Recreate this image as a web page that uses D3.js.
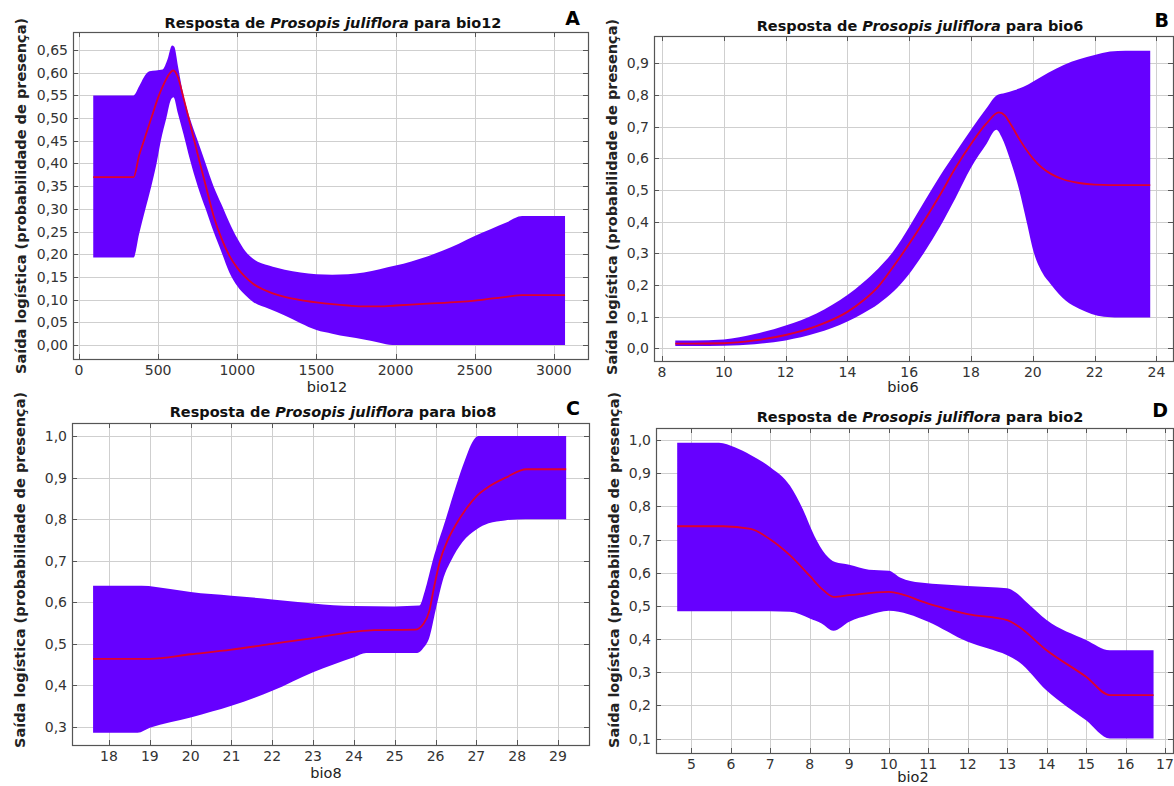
<!DOCTYPE html>
<html><head><meta charset="utf-8">
<script src="https://cdn.jsdelivr.net/npm/d3@7"></script>
<style>
body{margin:0;background:#fff}
svg{display:block}
text{font-family:"DejaVu Sans",sans-serif}
</style></head>
<body><svg id="c" width="1174" height="786"></svg>
<script>
// ---------- DATA ----------
const yLabel = "Saída logística (probabilidade de presença)";
const species = "Prosopis juliflora";

// Panel A: bio12
const xTicksA = [0, 500, 1000, 1500, 2000, 2500, 3000];
const yTicksA = [0, 0.05, 0.10, 0.15, 0.20, 0.25, 0.30, 0.35, 0.40, 0.45, 0.50, 0.55, 0.60, 0.65];
const upperA = [[90,0.55],[200,0.55],[345,0.55],[380,0.57],[410,0.59],[445,0.603],[528,0.607],[560,0.63],[588,0.66],[602,0.657],[625,0.615],[660,0.55],[700,0.50],[750,0.45],[800,0.40],[850,0.35],[900,0.31],[950,0.27],[1000,0.235],[1050,0.207],[1100,0.19],[1200,0.175],[1300,0.166],[1400,0.16],[1500,0.156],[1600,0.155],[1700,0.156],[1800,0.16],[1900,0.167],[2000,0.175],[2100,0.184],[2200,0.195],[2300,0.208],[2400,0.223],[2500,0.24],[2600,0.255],[2700,0.27],[2800,0.284],[3071,0.284]];
const meanA  = [[90,0.37],[200,0.37],[345,0.37],[380,0.418],[410,0.45],[457,0.50],[505,0.55],[540,0.578],[570,0.597],[595,0.605],[625,0.59],[660,0.545],[700,0.49],[750,0.42],[800,0.352],[850,0.285],[900,0.235],[950,0.197],[1000,0.17],[1050,0.15],[1100,0.135],[1200,0.117],[1300,0.106],[1400,0.099],[1500,0.094],[1600,0.09],[1700,0.087],[1800,0.085],[1900,0.085],[2000,0.087],[2200,0.091],[2400,0.095],[2500,0.098],[2600,0.102],[2700,0.106],[2800,0.11],[3071,0.11]];
const lowerA = [[90,0.193],[200,0.193],[345,0.193],[380,0.245],[420,0.30],[457,0.35],[490,0.40],[517,0.45],[552,0.50],[580,0.54],[597,0.546],[625,0.51],[660,0.465],[700,0.41],[750,0.35],[800,0.30],[850,0.25],[900,0.205],[950,0.16],[1000,0.13],[1050,0.11],[1100,0.095],[1200,0.08],[1300,0.065],[1400,0.048],[1500,0.033],[1600,0.025],[1700,0.018],[1800,0.012],[1900,0.005],[1980,0],[2500,0],[3071,0]];

// Panel B: bio6
const xTicksB = [8, 10, 12, 14, 16, 18, 20, 22, 24];
const yTicksB = [0, 0.1, 0.2, 0.3, 0.4, 0.5, 0.6, 0.7, 0.8, 0.9];
const upperB = [[8.43,0.025],[9,0.025],[10,0.028],[11,0.045],[12,0.072],[13,0.11],[14,0.168],[14.5,0.207],[15,0.252],[15.5,0.308],[16,0.383],[16.5,0.465],[17,0.545],[17.5,0.618],[18,0.69],[18.5,0.758],[18.85,0.80],[19.1,0.806],[19.4,0.815],[19.7,0.826],[20,0.842],[20.5,0.87],[21,0.895],[21.5,0.913],[22,0.926],[22.5,0.937],[23,0.94],[23.8,0.94]];
const meanB  = [[8.43,0.015],[9,0.015],[10,0.016],[11,0.025],[12,0.042],[13,0.07],[14,0.115],[14.5,0.15],[15,0.195],[15.5,0.26],[16,0.33],[16.5,0.405],[17,0.485],[17.5,0.57],[18,0.645],[18.5,0.71],[18.9,0.745],[19.1,0.735],[19.3,0.705],[19.6,0.655],[20,0.60],[20.3,0.57],[20.6,0.55],[21,0.533],[21.5,0.522],[22,0.517],[23,0.515],[23.8,0.515]];
const lowerB = [[8.43,0.007],[9,0.007],[10,0.008],[11,0.013],[12,0.025],[13,0.048],[14,0.085],[14.5,0.11],[15,0.14],[15.5,0.18],[16,0.235],[16.5,0.305],[17,0.385],[17.5,0.475],[18,0.57],[18.5,0.645],[18.82,0.69],[19.0,0.665],[19.25,0.60],[19.56,0.50],[19.8,0.40],[20.04,0.30],[20.3,0.24],[20.6,0.20],[21.07,0.15],[21.5,0.125],[22.3,0.10],[23,0.097],[23.8,0.097]];

// Panel C: bio8
const xTicksC = [18, 19, 20, 21, 22, 23, 24, 25, 26, 27, 28, 29];
const yTicksC = [0.3, 0.4, 0.5, 0.6, 0.7, 0.8, 0.9, 1.0];
const upperC = [[17.61,0.64],[18.8,0.64],[19.5,0.632],[20,0.625],[21,0.616],[22,0.607],[23,0.597],[23.5,0.593],[24,0.591],[25,0.59],[25.6,0.592],[25.74,0.628],[25.93,0.70],[26.25,0.80],[26.57,0.90],[26.75,0.95],[26.9,0.985],[27.05,1.0],[29.2,1.0]];
const meanC  = [[17.61,0.464],[19,0.464],[20,0.475],[21,0.486],[22,0.50],[23,0.514],[24,0.529],[24.5,0.533],[25.5,0.534],[25.7,0.548],[25.85,0.58],[25.95,0.63],[26.11,0.70],[26.3,0.75],[26.5,0.787],[26.75,0.825],[27.0,0.855],[27.3,0.878],[27.72,0.90],[28.23,0.92],[29.2,0.92]];
const lowerC = [[17.61,0.286],[18.7,0.286],[19,0.298],[20,0.323],[21,0.351],[22,0.387],[23,0.432],[24,0.468],[24.3,0.478],[25.55,0.478],[25.7,0.49],[25.85,0.516],[26.0,0.58],[26.2,0.66],[26.38,0.70],[26.66,0.745],[27.0,0.775],[27.3,0.79],[27.7,0.797],[28.2,0.80],[29.2,0.80]];

// Panel D: bio2
const xTicksD = [5, 6, 7, 8, 9, 10, 11, 12, 13, 14, 15, 16, 17];
const yTicksD = [0.1, 0.2, 0.3, 0.4, 0.5, 0.6, 0.7, 0.8, 0.9, 1.0];
const upperD = [[4.64,0.992],[5.7,0.992],[6.1,0.978],[6.5,0.955],[7,0.918],[7.5,0.862],[7.83,0.79],[8.12,0.71],[8.4,0.655],[8.64,0.632],[9,0.624],[9.5,0.609],[10,0.606],[10.3,0.585],[10.8,0.57],[12,0.56],[13,0.553],[13.2,0.542],[13.5,0.51],[14,0.457],[15,0.397],[15.6,0.366],[16.71,0.366]];
const meanD  = [[4.64,0.74],[5.8,0.74],[6.5,0.732],[7,0.70],[7.5,0.652],[8,0.59],[8.3,0.552],[8.6,0.527],[9,0.532],[10,0.542],[11,0.507],[12,0.475],[13,0.457],[13.3,0.437],[14,0.366],[15,0.286],[15.6,0.231],[16.71,0.231]];
const lowerD = [[4.64,0.484],[7,0.484],[7.5,0.482],[8,0.462],[8.3,0.447],[8.6,0.425],[9,0.452],[9.5,0.472],[10,0.485],[10.5,0.475],[11,0.452],[12,0.392],[12.5,0.372],[13,0.351],[13.3,0.331],[14,0.245],[15,0.155],[15.6,0.10],[16.71,0.10]];

// ---------- LAYOUT ----------
const panels = [
  {letter:"A", variable:"bio12", xTicks:xTicksA, yTicks:yTicksA, yFmt:".2f", upper:upperA, mean:meanA, lower:lowerA,
   xCal:[0,3000], xPix:[79,553.8], yCal:[0,0.65], yPix:[345,50], box:{l:73,r:588,t:32,b:359},
   title:[333,27.5], letterPos:[580,25], xLab:[327,392], yLab:[26,196]},
  {letter:"B", variable:"bio6", xTicks:xTicksB, yTicks:yTicksB, yFmt:".1f", upper:upperB, mean:meanB, lower:lowerB,
   xCal:[8,24], xPix:[662,1156.4], yCal:[0,0.9], yPix:[348.3,63.3], box:{l:654,r:1173,t:36,b:361},
   title:[920,31], letterPos:[1169,27], xLab:[903,392], yLab:[617,197]},
  {letter:"C", variable:"bio8", xTicks:xTicksC, yTicks:yTicksC, yFmt:".1f", upper:upperC, mean:meanC, lower:lowerC,
   xCal:[18,29], xPix:[109,558], yCal:[0.3,1.0], yPix:[727,436], box:{l:72,r:589,t:423,b:745},
   title:[333,416.5], letterPos:[580,415], xLab:[326,778], yLab:[24.5,570]},
  {letter:"D", variable:"bio2", xTicks:xTicksD, yTicks:yTicksD, yFmt:".1f", upper:upperD, mean:meanD, lower:lowerD,
   xCal:[5,17], xPix:[691.4,1165], yCal:[0.1,1.0], yPix:[738.5,440], box:{l:656,r:1173,t:428,b:753},
   title:[920,422], letterPos:[1168,417], xLab:[913,782], yLab:[619,570]}
];

const svg = d3.select("#c");
const loc = d3.formatLocale({decimal:",", thousands:".", grouping:[3], currency:["",""]});
const BAND = "#6600ff", MEAN = "#e0002c", GRID = "#cfcfcf", FRAME = "#555";

panels.forEach(p => {
  const x = d3.scaleLinear().domain(p.xCal).range(p.xPix);
  const y = d3.scaleLinear().domain(p.yCal).range(p.yPix);
  const {l, r, t, b} = p.box;
  const g = svg.append("g");
  const yf = loc.format(p.yFmt);
  const xf = loc.format("d");
  const snap = v => Math.round(v) + 0.5;

  // grid
  g.selectAll(".gx").data(p.xTicks).join("line")
    .attr("x1", d => snap(x(d))).attr("x2", d => snap(x(d)))
    .attr("y1", t).attr("y2", b).attr("stroke", GRID).attr("stroke-width", 1);
  g.selectAll(".gy").data(p.yTicks).join("line")
    .attr("x1", l).attr("x2", r)
    .attr("y1", d => snap(y(d))).attr("y2", d => snap(y(d))).attr("stroke", GRID).attr("stroke-width", 1);

  // band (between upper and lower) using even-odd fill of two areas
  const under = d3.area().x(d => x(d[0])).y0(b).y1(d => y(d[1])).curve(d3.curveMonotoneX);
  g.append("path").attr("d", under(p.upper) + under(p.lower))
    .attr("fill", BAND).attr("fill-rule", "evenodd");

  // mean curve
  g.append("path")
    .attr("d", d3.line().x(d => x(d[0])).y(d => y(d[1])).curve(d3.curveMonotoneX)(p.mean))
    .attr("fill", "none").attr("stroke", MEAN).attr("stroke-width", 1.8);

  // frame
  g.append("rect").attr("x", l + 0.5).attr("y", t + 0.5).attr("width", r - l).attr("height", b - t)
    .attr("fill", "none").attr("stroke", FRAME).attr("stroke-width", 1.2);

  // inward ticks
  const tl = 5;
  p.xTicks.forEach(d => {
    const xx = snap(x(d));
    g.append("line").attr("x1", xx).attr("x2", xx).attr("y1", b).attr("y2", b - tl).attr("stroke", FRAME);
    g.append("line").attr("x1", xx).attr("x2", xx).attr("y1", t).attr("y2", t + tl).attr("stroke", FRAME);
  });
  p.yTicks.forEach(d => {
    const yy = snap(y(d));
    g.append("line").attr("x1", l).attr("x2", l + tl).attr("y1", yy).attr("y2", yy).attr("stroke", FRAME);
    g.append("line").attr("x1", r).attr("x2", r - tl).attr("y1", yy).attr("y2", yy).attr("stroke", FRAME);
  });

  // tick labels
  g.selectAll(".xl").data(p.xTicks).join("text")
    .attr("x", d => x(d)).attr("y", b + 15.5).attr("text-anchor", "middle")
    .attr("font-size", 14).attr("fill", "#333").text(d => xf(d));
  g.selectAll(".yl").data(p.yTicks).join("text")
    .attr("x", l - 5).attr("y", d => y(d) + 5).attr("text-anchor", "end")
    .attr("font-size", 14).attr("fill", "#333").text(d => yf(d));

  // axis labels
  g.append("text").attr("x", p.xLab[0]).attr("y", p.xLab[1]).attr("text-anchor", "middle")
    .attr("font-size", 14.5).attr("fill", "#222").text(p.variable);
  g.append("text").attr("transform", `translate(${p.yLab[0]},${p.yLab[1]}) rotate(-90)`)
    .attr("text-anchor", "middle").attr("font-size", 14.5).attr("font-weight", "bold")
    .attr("fill", "#222").text(yLabel);

  // title
  const tt = g.append("text").attr("x", p.title[0]).attr("y", p.title[1]).attr("text-anchor", "middle")
    .attr("font-size", 14.5).attr("font-weight", "bold").attr("fill", "#111");
  tt.append("tspan").text("Resposta de ");
  tt.append("tspan").attr("font-style", "italic").text(species);
  tt.append("tspan").text(" para " + p.variable);

  // panel letter
  g.append("text").attr("x", p.letterPos[0]).attr("y", p.letterPos[1]).attr("text-anchor", "end")
    .attr("font-size", 19).attr("font-weight", "bold").attr("fill", "#000").text(p.letter);
});
</script></body></html>
